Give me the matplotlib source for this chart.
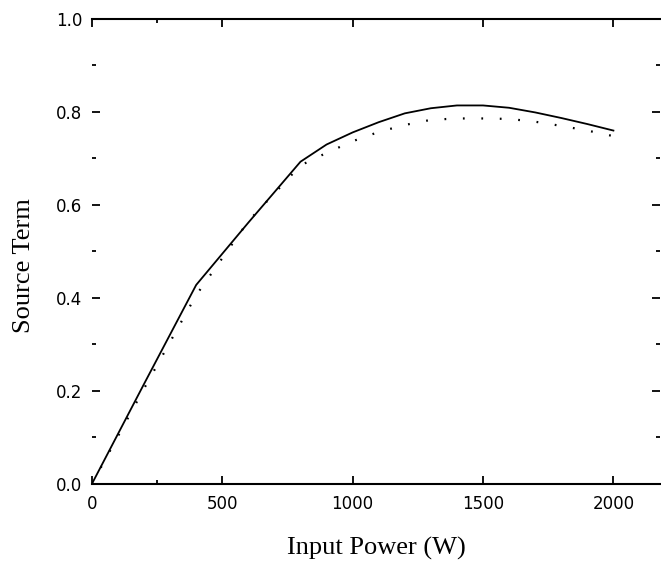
import matplotlib.pyplot as plt
from matplotlib.ticker import FixedLocator, MultipleLocator

# input power (W)
power = [0, 200, 400, 600, 800, 900, 1000, 1100, 1200, 1300, 1400, 1500, 1600, 1700, 1800, 1900, 2000]
# source term, solid curve
source_solid = [0, 0.215, 0.428, 0.562, 0.693, 0.730, 0.756, 0.778, 0.797, 0.808, 0.814, 0.814, 0.809, 0.799, 0.787, 0.774, 0.760]
# source term, dotted curve
source_dotted = [0, 0.205, 0.406, 0.565, 0.685, 0.712, 0.737, 0.757, 0.772, 0.783, 0.786, 0.786, 0.785, 0.779, 0.770, 0.760, 0.748]

xticks = [0, 500, 1000, 1500, 2000]
yticks = [0.0, 0.2, 0.4, 0.6, 0.8, 1.0]

fig = plt.figure(figsize=(6.61, 5.66), dpi=100)
ax = fig.add_axes([0.139, 0.145, 0.86, 0.8215])

ax.plot(power, source_solid, color='black', linewidth=1.3)
ax.plot(power, source_dotted, color='black', linewidth=1.6, linestyle=(0, (0.8, 7.5)))

ax.set_xlim(0, 2180)
ax.set_ylim(0, 1.0)
ax.set_xticks(xticks)
ax.set_yticks(yticks)
ax.set_yticklabels(['%.1f' % v for v in yticks])
ax.xaxis.set_minor_locator(FixedLocator([250]))
ax.yaxis.set_minor_locator(MultipleLocator(0.1))

ax.spines['left'].set_visible(False)
ax.spines['right'].set_visible(False)
ax.spines['top'].set_linewidth(1.5)
ax.spines['bottom'].set_linewidth(1.5)

ax.tick_params(which='both', direction='in', top=True, right=True, width=1.3,
               labelsize=12, colors='black')
ax.tick_params(which='major', length=6)
ax.tick_params(which='minor', length=3)
ax.tick_params(axis='y', pad=7)
ax.tick_params(axis='x', pad=8)

ax.set_xlabel('Input Power (W)', family='Liberation Serif', fontsize=19, labelpad=17)
ax.set_ylabel('Source Term', family='Liberation Serif', fontsize=19)
ax.yaxis.set_label_coords(-0.10, 0.47)

fig.savefig('out.png', dpi=100)
